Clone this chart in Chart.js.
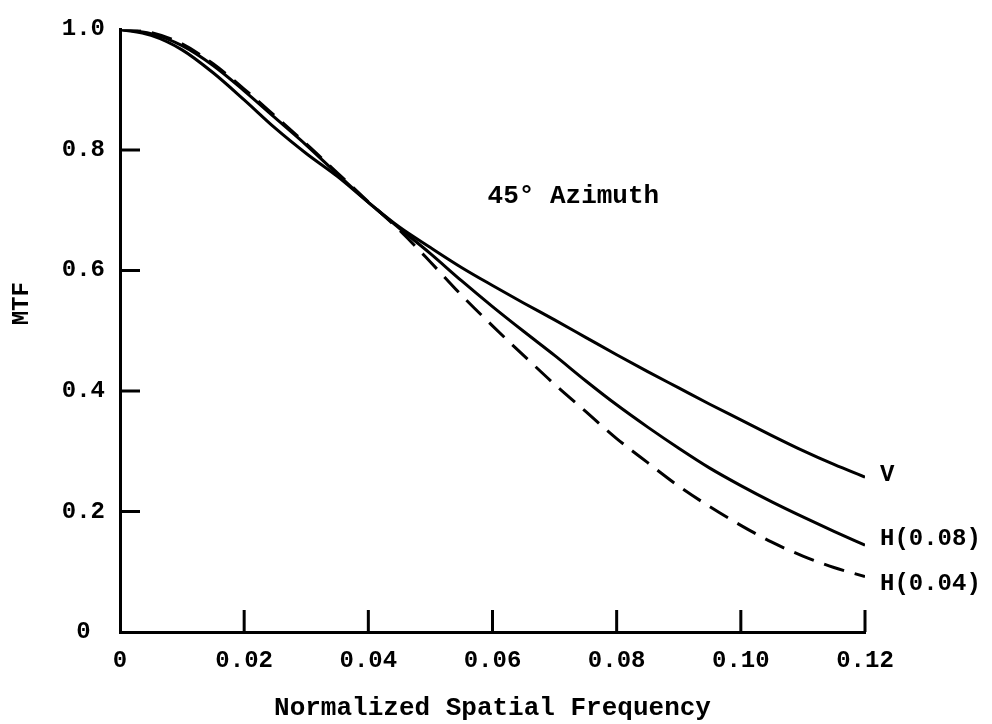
<!DOCTYPE html>
<html>
<head>
<meta charset="utf-8">
<script src="https://cdn.jsdelivr.net/npm/chart.js@4/dist/chart.umd.min.js"></script>
<style>
  body { margin: 0; background: #fff; }
</style>
</head>
<body>
<canvas id="mtf" width="992" height="724"></canvas>
<script>
// normalized spatial frequency samples
const freq = [0, 0.005, 0.01, 0.015, 0.02, 0.025, 0.03, 0.035, 0.04, 0.045,
  0.05, 0.055, 0.06, 0.065, 0.07, 0.075, 0.08, 0.085, 0.09, 0.095,
  0.10, 0.105, 0.11, 0.115, 0.12];

const mtfV = [1.0, 0.990, 0.966, 0.928, 0.883, 0.836, 0.794, 0.756, 0.713, 0.672,
  0.638, 0.605, 0.575, 0.546, 0.518, 0.489, 0.460, 0.432, 0.405, 0.378,
  0.352, 0.326, 0.301, 0.278, 0.257];

const mtfH08 = [1.0, 0.993, 0.973, 0.940, 0.898, 0.853, 0.808, 0.760, 0.713, 0.670,
  0.628, 0.583, 0.540, 0.499, 0.459, 0.417, 0.377, 0.340, 0.305, 0.272,
  0.243, 0.216, 0.191, 0.167, 0.144];

const mtfH04 = [1.0, 0.995, 0.976, 0.943, 0.901, 0.856, 0.810, 0.762, 0.714, 0.667,
  0.614, 0.559, 0.508, 0.459, 0.411, 0.366, 0.321, 0.281, 0.242, 0.208,
  0.177, 0.149, 0.126, 0.107, 0.092];

const curveNames = ['V', 'H(0.08)', 'H(0.04)'];

const xTickValues = [0, 0.02, 0.04, 0.06, 0.08, 0.10, 0.12];
const xTickLabels = ['0', '0.02', '0.04', '0.06', '0.08', '0.10', '0.12'];
const yTickValues = [0, 0.2, 0.4, 0.6, 0.8, 1.0];
const yTickLabels = ['0', '0.2', '0.4', '0.6', '0.8', '1.0'];

const FONT = '"Liberation Mono", "DejaVu Sans Mono", monospace';

const pts = (ys) => freq.map((f, i) => ({ x: f, y: ys[i] }));

// inward tick marks, curve labels and the annotation
const decorations = {
  id: 'decorations',
  afterDraw(chart) {
    const { ctx, chartArea, scales: { x, y } } = chart;
    ctx.save();
    ctx.strokeStyle = '#000';
    ctx.lineWidth = 3;
    ctx.beginPath();
    yTickValues.forEach(v => {
      if (v <= 0 || v >= 1) return;
      const py = y.getPixelForValue(v);
      ctx.moveTo(chartArea.left, py);
      ctx.lineTo(chartArea.left + 20, py);
    });
    xTickValues.forEach(v => {
      if (v <= 0) return;
      const px = x.getPixelForValue(v);
      ctx.moveTo(px, chartArea.bottom);
      ctx.lineTo(px, chartArea.bottom - 22);
    });
    ctx.stroke();

    ctx.fillStyle = '#000';
    ctx.font = 'bold 24px ' + FONT;
    ctx.textAlign = 'left';
    ctx.textBaseline = 'middle';
    const ends = [mtfV, mtfH08, mtfH04];
    const nudge = [-2, -6, 7];
    const endX = x.getPixelForValue(freq[freq.length - 1]) + 15;
    ends.forEach((s, i) => {
      ctx.fillText(curveNames[i], endX, y.getPixelForValue(s[s.length - 1]) + nudge[i]);
    });

    ctx.font = 'bold 26px ' + FONT;
    ctx.fillText('45° Azimuth', x.getPixelForValue(0.0592), y.getPixelForValue(0.7235));

    // y axis title
    ctx.font = 'bold 24px ' + FONT;
    ctx.textAlign = 'center';
    ctx.translate(22, (chartArea.top + chartArea.bottom) / 2 - 27);
    ctx.rotate(-Math.PI / 2);
    ctx.fillText('MTF', 0, 0);
    ctx.restore();
  }
};

new Chart(document.getElementById('mtf'), {
  type: 'line',
  data: {
    datasets: [
      {
        label: 'H(0.04)',
        data: pts(mtfH04),
        borderColor: '#000',
        borderWidth: 3,
        borderDash: [21, 11],
        pointRadius: 0,
        cubicInterpolationMode: 'monotone',
        fill: false,
      },
      {
        label: 'H(0.08)',
        data: pts(mtfH08),
        borderColor: '#000',
        borderWidth: 3,
        pointRadius: 0,
        cubicInterpolationMode: 'monotone',
        fill: false,
      },
      {
        label: 'V',
        data: pts(mtfV),
        borderColor: '#000',
        borderWidth: 3,
        pointRadius: 0,
        cubicInterpolationMode: 'monotone',
        fill: false,
      },
    ],
  },
  options: {
    responsive: false,
    animation: false,
    devicePixelRatio: 1,
    layout: { padding: { top: 28, right: 127, left: 0, bottom: 0 } },
    plugins: {
      legend: { display: false },
      tooltip: { enabled: false },
    },
    scales: {
      x: {
        type: 'linear',
        min: 0,
        max: 0.12,
        afterBuildTicks: (scale) => { scale.ticks = xTickValues.map(v => ({ value: v })); },
        afterFit: (scale) => { scale.height = 92; },
        grid: { drawOnChartArea: false, drawTicks: false },
        border: { display: true, color: '#000', width: 3 },
        ticks: {
          padding: 15,
          color: '#000',
          font: { family: FONT, size: 24, weight: 'bold' },
          maxRotation: 0,
          callback: (v) => xTickLabels[xTickValues.indexOf(v)] ?? '',
        },
        title: {
          display: true,
          text: 'Normalized Spatial Frequency',
          color: '#000',
          font: { family: FONT, size: 26, weight: 'bold' },
          padding: { top: 0, bottom: 0 },
        },
      },
      y: {
        type: 'linear',
        min: 0,
        max: 1.0,
        afterBuildTicks: (scale) => { scale.ticks = yTickValues.map(v => ({ value: v })); },
        afterFit: (scale) => { scale.width = 120; },
        grid: { drawOnChartArea: false, drawTicks: false },
        border: { display: true, color: '#000', width: 3 },
        ticks: {
          padding: 15,
          crossAlign: 'center',
          color: '#000',
          font: { family: FONT, size: 24, weight: 'bold' },
          callback: (v) => yTickLabels[yTickValues.indexOf(v)] ?? '',
        },
      },
    },
  },
  plugins: [decorations],
});
</script>
</body>
</html>
